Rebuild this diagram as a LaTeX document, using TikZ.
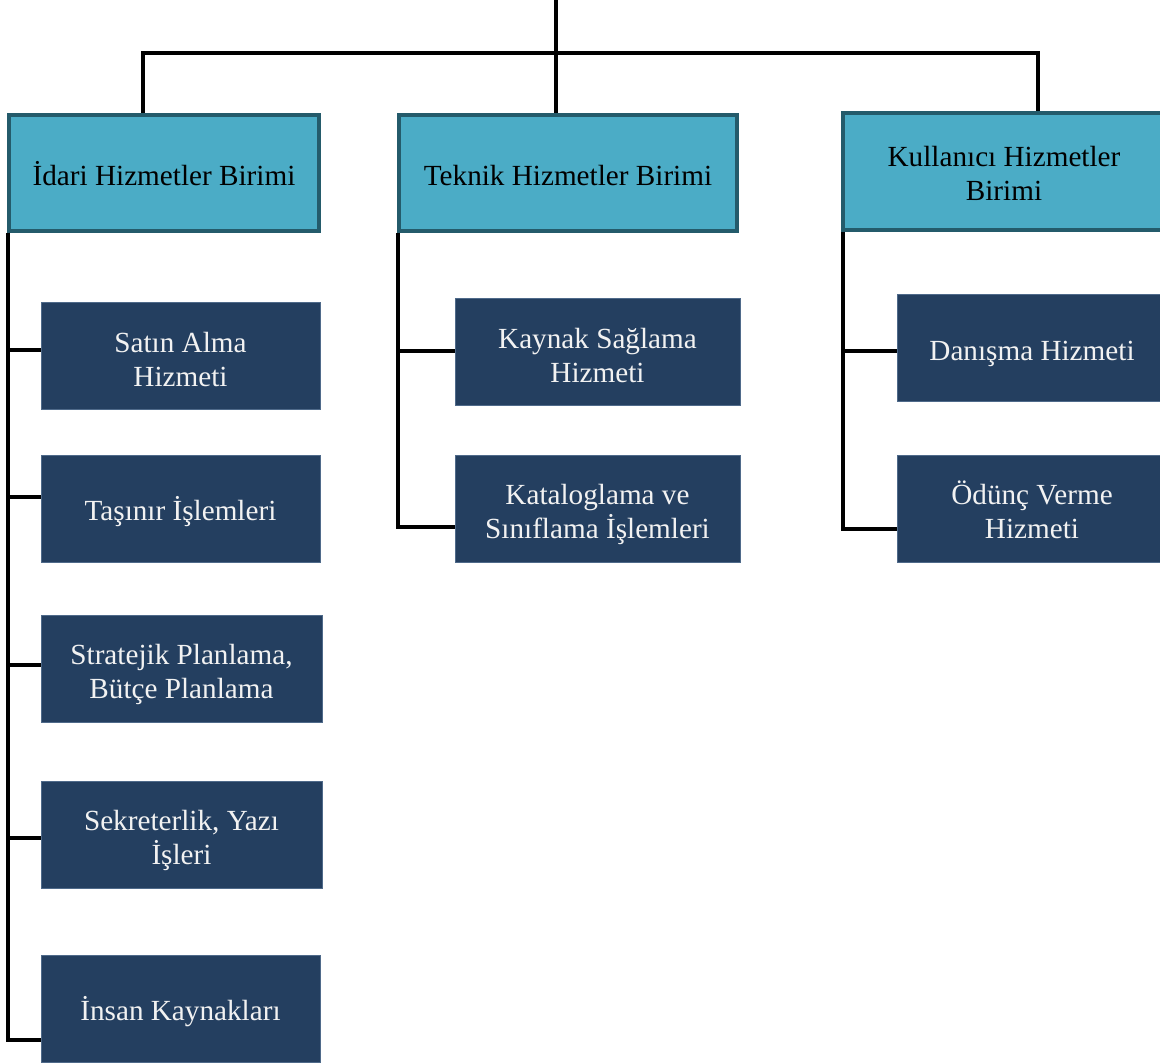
\documentclass[tikz,border=0pt]{standalone}
\usepackage{fontspec}
\setmainfont{Liberation Serif}
\definecolor{hdrfill}{HTML}{4BACC6}
\definecolor{hdrline}{HTML}{245B6B}
\definecolor{subfill}{HTML}{243F60}
\definecolor{subline}{HTML}{4F6A8A}
\definecolor{subtext}{HTML}{F2F2F2}
\newcommand\mytxt[2]{\raisebox{0pt}[\dimexpr\height+#1\relax][\depth]{\begin{tabular}{@{}c@{}}#2\end{tabular}}}
\begin{document}
\begin{tikzpicture}[x=0.5pt,y=-0.5pt,
  hdr/.style={draw=hdrline,fill=hdrfill,line width=2pt,inner sep=0pt,align=center,
    font=\fontsize{14.6pt}{17pt}\selectfont,text=black,minimum height=58pt},
  sub/.style={draw=subline,fill=subfill,line width=0.5pt,inner sep=0pt,align=center,
    font=\fontsize{14.6pt}{17pt}\selectfont,text=subtext,minimum height=53.5pt},
  conn/.style={draw=black,line width=2pt}]
\useasboundingbox (0,0) rectangle (1160,1063);
\clip (0,0) rectangle (1160,1063);
% header boxes
\node[hdr,minimum width=155pt] (idari) at (164,173) {\mytxt{6pt}{İdari Hizmetler Birimi}};
\node[hdr,minimum width=169pt] (teknik) at (568,173) {\mytxt{6pt}{Teknik Hizmetler Birimi}};
\node[hdr,minimum width=161pt,minimum height=58.5pt] (kul) at (1004,171.5) {\mytxt{5pt}{Kullanıcı Hizmetler\\Birimi}};
% left column
\node[sub,minimum width=139.5pt] (sat) at (180.5,356.5) {\mytxt{6pt}{Satın Alma\\Hizmeti}};
\node[sub,minimum width=139.5pt] (tas) at (180.5,508.5) {\mytxt{5pt}{Taşınır İşlemleri}};
\node[sub,minimum width=140.5pt] (str) at (181.5,668.5) {\mytxt{6pt}{Stratejik Planlama,\\Bütçe Planlama}};
\node[sub,minimum width=140.5pt] (sek) at (181.5,834.5) {\mytxt{6pt}{Sekreterlik, Yazı\\İşleri}};
\node[sub,minimum width=139.5pt] (ins) at (180.5,1008.5) {\mytxt{5pt}{İnsan Kaynakları}};
% middle column
\node[sub,minimum width=142.5pt] (kay) at (597.5,352.5) {\mytxt{6pt}{Kaynak Sağlama\\Hizmeti}};
\node[sub,minimum width=142.5pt] (kat) at (597.5,508.5) {\mytxt{6pt}{Kataloglama ve\\Sınıflama İşlemleri}};
% right column
\node[sub,minimum width=135pt] (dan) at (1032,348.5) {\mytxt{5pt}{Danışma Hizmeti}};
\node[sub,minimum width=135pt] (odu) at (1032,508.5) {\mytxt{6pt}{Ödünç Verme\\Hizmeti}};
% top connectors
\coordinate (top) at (556,0);
\coordinate (bar) at (556,53);
\draw[conn] (top) -- ([xshift=-6pt]teknik.north);
\draw[conn] ([xshift=-10.5pt]idari.north) |- (bar) -| ([xshift=17pt]kul.north);
% left spine
\draw[conn] ([xshift=0.5pt]idari.south west) |- ([yshift=3.25pt]sat.west);
\draw[conn] ([xshift=0.5pt]idari.south west) |- ([yshift=5.75pt]tas.west);
\draw[conn] ([xshift=0.5pt]idari.south west) |- ([yshift=1.75pt]str.west);
\draw[conn] ([xshift=0.5pt]idari.south west) |- ([yshift=-1.75pt]sek.west);
\draw[conn] ([xshift=0.5pt]idari.south west) |- ([yshift=-15.75pt]ins.west);
% middle spine
\draw[conn] ([xshift=0.5pt]teknik.south west) |- ([yshift=0.75pt]kay.west);
\draw[conn] ([xshift=0.5pt]teknik.south west) |- ([yshift=-9.25pt]kat.west);
% right spine
\draw[conn] ([xshift=1pt]kul.south west) |- ([yshift=-1.25pt]dan.west);
\draw[conn] ([xshift=1pt]kul.south west) |- ([yshift=-10.25pt]odu.west);
\end{tikzpicture}
\end{document}
